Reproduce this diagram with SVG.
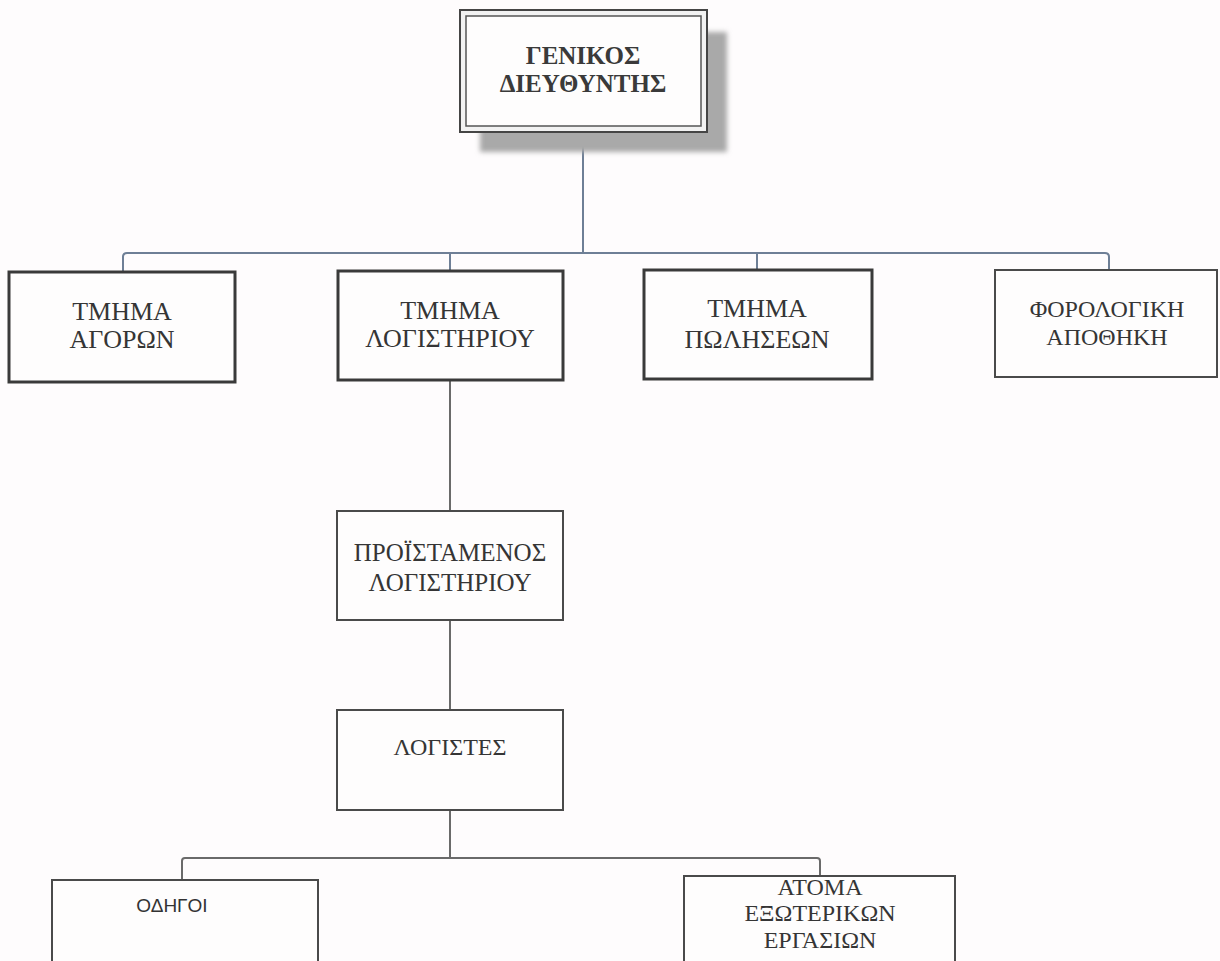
<svg xmlns="http://www.w3.org/2000/svg" width="1220" height="961" viewBox="0 0 1220 961">
<defs>
<style>
.bg{fill:#fefcfd}
.box{fill:#fefdfd;stroke:#3a3a3a;stroke-width:3}
.thin{fill:#fefdfd;stroke:#4a4a4a;stroke-width:2}
.lbl{font-family:"Liberation Serif","DejaVu Serif",serif;font-size:24px;fill:#353535;text-anchor:middle}
.big{font-size:26px}
.mid{font-size:25px}
.top{font-size:25px;font-weight:bold;fill:#3a3a3a}
.sans{font-family:"Liberation Sans","DejaVu Sans",sans-serif;font-size:19px;fill:#333;text-anchor:middle}
.conn{fill:none;stroke:#6e7f96;stroke-width:2}
.conn2{fill:none;stroke:#6a6a6a;stroke-width:2}
</style>
<filter id="blur" x="-10%" y="-10%" width="120%" height="120%"><feGaussianBlur stdDeviation="2.5"/></filter>
</defs>
<rect class="bg" x="0" y="0" width="1220" height="961"/>
<g id="connectors">
<path class="conn" d="M583,132 V253"/>
<path class="conn" d="M123,271 V257 Q123,253 127,253 H1105 Q1109,253 1109,257 V270"/>
<path class="conn" d="M450,253 V271"/>
<path class="conn" d="M757,253 V270"/>
<path class="conn2" d="M450,380 V511"/>
<path class="conn2" d="M450,620 V710"/>
<path class="conn2" d="M450,810 V858"/>
<path class="conn2" d="M182,880 V861 Q182,858 185,858 H817 Q820,858 820,861 V876"/>
</g>
<g id="n-general">
<rect x="480" y="32" width="247" height="120" fill="#a9a9a9" filter="url(#blur)"/>
<rect x="460" y="10" width="247" height="122" fill="#f2f2f2" stroke="#454545" stroke-width="2"/>
<rect x="466" y="16" width="235" height="110" fill="#fefdfd" stroke="#555" stroke-width="1.5"/>
<text class="lbl top" x="583" y="64">ΓΕΝΙΚΟΣ</text>
<text class="lbl top" x="583" y="92">ΔΙΕΥΘΥΝΤΗΣ</text>
</g>
<g id="n-agoron">
<rect class="box" x="9" y="272" width="226" height="110"/>
<text class="lbl big" x="122" y="320">ΤΜΗΜΑ</text>
<text class="lbl big" x="122" y="348">ΑΓΟΡΩΝ</text>
</g>
<g id="n-logistiriou">
<rect class="box" x="338" y="271" width="225" height="109"/>
<text class="lbl big" x="450" y="319">ΤΜΗΜΑ</text>
<text class="lbl big" x="450" y="347">ΛΟΓΙΣΤΗΡΙΟΥ</text>
</g>
<g id="n-poliseon">
<rect class="box" x="644" y="270" width="228" height="109"/>
<text class="lbl big" x="757" y="317">ΤΜΗΜΑ</text>
<text class="lbl big" x="757" y="348">ΠΩΛΗΣΕΩΝ</text>
</g>
<g id="n-apothiki">
<rect class="thin" x="995" y="270" width="222" height="107"/>
<text class="lbl" x="1107" y="317">ΦΟΡΟΛΟΓΙΚΗ</text>
<text class="lbl" x="1107" y="345">ΑΠΟΘΗΚΗ</text>
</g>
<g id="n-proistamenos">
<rect class="thin" x="337" y="511" width="226" height="109"/>
<text class="lbl mid" x="450" y="561">ΠΡΟΪΣΤΑΜΕΝΟΣ</text>
<text class="lbl mid" x="450" y="591">ΛΟΓΙΣΤΗΡΙΟΥ</text>
</g>
<g id="n-logistes">
<rect class="thin" x="337" y="710" width="226" height="100"/>
<text class="lbl" x="450" y="755">ΛΟΓΙΣΤΕΣ</text>
</g>
<g id="n-odigoi">
<rect class="thin" x="52" y="880" width="266" height="90"/>
<text class="sans" x="172" y="912">ΟΔΗΓΟΙ</text>
</g>
<g id="n-atoma">
<rect class="thin" x="684" y="876" width="271" height="95"/>
<text class="lbl" x="820" y="895">ΑΤΟΜΑ</text>
<text class="lbl" x="820" y="921">ΕΞΩΤΕΡΙΚΩΝ</text>
<text class="lbl" x="820" y="948">ΕΡΓΑΣΙΩΝ</text>
</g>
</svg>
